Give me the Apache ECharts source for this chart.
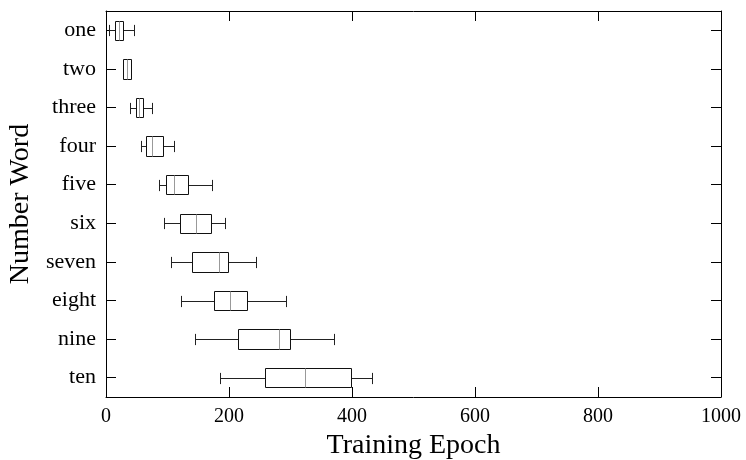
<!DOCTYPE html>
<html>
<head>
<meta charset="utf-8">
<script src="https://cdn.jsdelivr.net/npm/echarts@6/dist/echarts.min.js"></script>
<style>html,body{margin:0;padding:0;background:#fff;}#chart{width:746px;height:460px;}</style>
</head>
<body>
<div id="chart"></div>
<script>
const categories = ['one', 'two', 'three', 'four', 'five', 'six', 'seven', 'eight', 'nine', 'ten'];
const lows    = [5, 27, 39, 57, 86, 95, 106, 122, 144, 185];
const q1s     = [15, 28, 48, 65, 98, 120, 140, 176, 215, 259];
const medians = [21, 34, 53, 75, 111, 147, 184, 201, 281, 323];
const q3s     = [27, 40, 60, 93, 134, 171, 199, 230, 299, 398];
const highs   = [45, 41, 75, 110, 172, 194, 244, 292, 371, 433];
const xTicks  = [0, 200, 400, 600, 800, 1000];

const data = categories.map((c, i) => [i, lows[i], q1s[i], medians[i], q3s[i], highs[i]]);

const FONT = '"Liberation Serif", "DejaVu Serif", serif';
const chart = echarts.init(document.getElementById('chart'), null, {renderer: 'canvas'});

function cr(v) { return Math.round(v) + 0.5; }

const axisLine = {show: true, onZero: false, lineStyle: {color: '#000', width: 1}};
const tick = {show: true, inside: true, length: 10, lineStyle: {color: '#000'}};

const option = {
  backgroundColor: '#fff',
  animation: false,
  grid: {left: 106, right: 25, top: 11, bottom: 63, containLabel: false, outerBoundsMode: 'none'},
  xAxis: [{
    type: 'value', min: xTicks[0], max: xTicks[xTicks.length - 1], interval: 200,
    position: 'bottom',
    name: 'Training Epoch', nameLocation: 'middle', nameGap: 27,
    nameTextStyle: {fontFamily: FONT, fontSize: 28, color: '#000'},
    axisLine: axisLine,
    axisTick: tick,
    axisLabel: {fontFamily: FONT, fontSize: 20, color: '#000', margin: 10, formatter: v => String(v)},
    splitLine: {show: false}
  }, {
    type: 'value', min: xTicks[0], max: xTicks[xTicks.length - 1], interval: 200,
    position: 'top',
    axisLine: axisLine,
    axisTick: tick,
    axisLabel: {show: false},
    splitLine: {show: false}
  }],
  yAxis: [{
    type: 'category', data: categories, inverse: true, position: 'left',
    name: 'Number Word', nameLocation: 'middle', nameGap: 70,
    nameTextStyle: {fontFamily: FONT, fontSize: 28, color: '#000'},
    axisLine: axisLine,
    axisTick: Object.assign({alignWithLabel: true}, tick),
    axisLabel: {fontFamily: FONT, fontSize: 22, color: '#000', margin: 10},
    splitLine: {show: false}
  }, {
    type: 'category', data: categories, inverse: true, position: 'right',
    axisLine: axisLine,
    axisTick: Object.assign({alignWithLabel: true}, tick),
    axisLabel: {show: false},
    splitLine: {show: false}
  }],
  series: [{
    type: 'custom',
    xAxisIndex: 0, yAxisIndex: 0,
    encode: {x: [1, 2, 3, 4, 5], y: 0},
    data: data,
    renderItem: function (params, api) {
      const cat = api.value(0);
      const pL = api.coord([api.value(1), cat]);
      const p1 = api.coord([api.value(2), cat]);
      const pM = api.coord([api.value(3), cat]);
      const p3 = api.coord([api.value(4), cat]);
      const pH = api.coord([api.value(5), cat]);
      const band = api.size([0, 1])[1];
      const bh = band * 0.5;
      const ch = band * 0.29;
      const y = cr(pL[1]);
      const xL = cr(pL[0]), x1 = cr(p1[0]), xM = cr(pM[0]), x3 = cr(p3[0]), xH = cr(pH[0]);
      const yT = Math.round(pL[1] - bh / 2) + 0.5;
      const yB = Math.round(pL[1] + bh / 2) + 0.5;
      const wStyle = {stroke: '#222', lineWidth: 1, fill: null};
      return {
        type: 'group',
        children: [
          {type: 'line', shape: {x1: xL, y1: y, x2: x1, y2: y}, style: wStyle},
          {type: 'line', shape: {x1: x3, y1: y, x2: xH, y2: y}, style: wStyle},
          {type: 'line', shape: {x1: xL, y1: y - ch / 2, x2: xL, y2: y + ch / 2}, style: wStyle},
          {type: 'line', shape: {x1: xH, y1: y - ch / 2, x2: xH, y2: y + ch / 2}, style: wStyle},
          {type: 'rect', shape: {x: x1, y: yT, width: x3 - x1, height: yB - yT}, style: {stroke: '#111', lineWidth: 1, fill: '#fff'}},
          {type: 'line', shape: {x1: xM, y1: yT, x2: xM, y2: yB}, style: {stroke: '#999', lineWidth: 1}}
        ]
      };
    }
  }]
};
chart.setOption(option);
</script>
</body>
</html>
